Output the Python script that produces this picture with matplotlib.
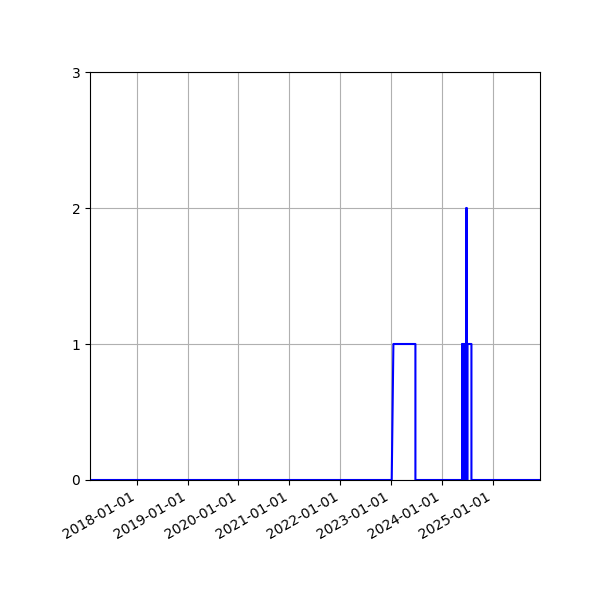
import matplotlib
matplotlib.use("Agg")
import matplotlib.pyplot as plt
import matplotlib.dates as mdates
import pandas as pd

# Change points (date, value) of the series
dates = [
    "2017-01-31", "2023-01-05", "2023-01-17", "2023-06-24", "2023-06-24",
    "2024-05-24", "2024-05-24",
    "2024-05-26", "2024-05-26", "2024-05-28", "2024-05-28", "2024-05-30", "2024-05-30",
    "2024-06-01", "2024-06-01", "2024-06-03", "2024-06-03", "2024-06-05", "2024-06-05",
    "2024-06-07", "2024-06-07", "2024-06-09", "2024-06-09", "2024-06-11", "2024-06-11",
    "2024-06-13", "2024-06-13", "2024-06-15", "2024-06-15",
    "2024-06-22", "2024-06-22", "2024-06-27", "2024-06-27",
    "2024-07-02", "2024-07-02",
    "2024-07-30", "2024-07-30", "2025-12-04",
]
values = [
    0, 0, 1, 1, 0,
    0, 1,
    1, 0, 0, 1, 1, 0,
    0, 1, 1, 0, 0, 1,
    1, 0, 0, 1, 1, 0,
    0, 1, 1, 1,
    1, 2, 2, 0,
    0, 1,
    1, 0, 0,
]
yticks = [0, 1, 2, 3]

x = pd.to_datetime(dates)

fig, ax = plt.subplots(figsize=(6, 6), dpi=100)
fig.subplots_adjust(left=0.15, right=0.9, top=0.88)
ax.plot(x, values, color="blue", linewidth=1.5)
ax.set_xlim(x[0], x[-1])
ax.set_ylim(0, 3)
ax.set_yticks(yticks)
ax.xaxis.set_major_locator(mdates.YearLocator())
ax.xaxis.set_major_formatter(mdates.DateFormatter("%Y-%m-%d"))
ax.grid(True)
fig.autofmt_xdate()
fig.savefig("out.png")
